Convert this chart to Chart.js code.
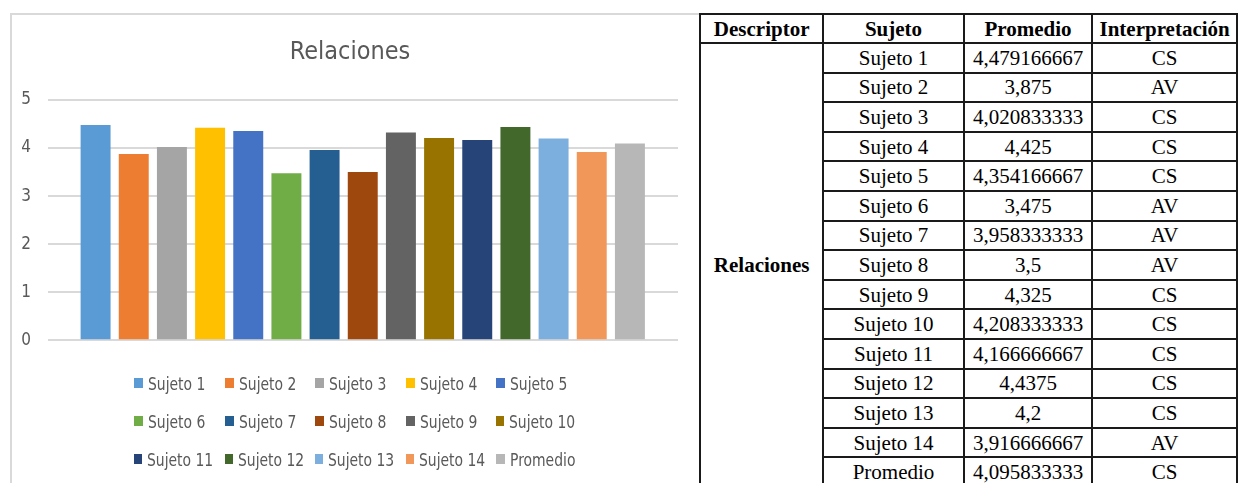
<!DOCTYPE html>
<html>
<head>
<meta charset="utf-8">
<script src="https://cdn.jsdelivr.net/npm/chart.js@4.4.1/dist/chart.umd.min.js"></script>
<style>
  body { margin: 0; width: 1238px; height: 483px; overflow: hidden; position: relative; background: #fff; }
  #chartBox { position: absolute; left: 10px; top: 13px; width: 700px; height: 480px;
    border-top: 2px solid #d9d9d9; border-left: 2px solid #d9d9d9; box-sizing: border-box; }
  #chart { position: absolute; left: 12px; top: 15px; }
  #legend { position: absolute; left: 134px; top: 364px; display: grid;
    grid-template-columns: repeat(5, 90.5px); grid-auto-rows: 38px; }
  .item { display: flex; align-items: center; font-family: "Liberation Sans Narrow", "DejaVu Sans Condensed", sans-serif;
    font-size: 18px; color: #595959; white-space: nowrap; }
  .item span { display: inline-block; width: 9px; height: 10px; margin-right: 5px; }
  .item b { display: inline-block; font-weight: normal; transform: scaleX(0.86); transform-origin: left center; }
  table { position: absolute; left: 699px; top: 13px; border-collapse: collapse; table-layout: fixed;
    font-family: "Liberation Serif", "Times New Roman", serif; font-size: 21px; color: #000; }
  td, th { border: 2px solid #1a1a1a; text-align: center; padding: 0; line-height: 24px; }
  th { font-weight: bold; height: 27px; }
  td { height: 27.6px; }
  td.desc { font-weight: bold; vertical-align: middle; }
</style>
</head>
<body>
<div id="chartBox"></div>
<canvas id="chart" width="687" height="352"></canvas>
<div id="legend"></div>
<table id="tbl">
  <colgroup><col style="width:124px"><col style="width:142px"><col style="width:129px"><col style="width:145px"></colgroup>
  <thead><tr><th>Descriptor</th><th>Sujeto</th><th>Promedio</th><th>Interpretación</th></tr></thead>
  <tbody id="tbody"></tbody>
</table>
<script>
const chartTitle = 'Relaciones';
const subjects = ['Sujeto 1', 'Sujeto 2', 'Sujeto 3', 'Sujeto 4', 'Sujeto 5', 'Sujeto 6', 'Sujeto 7',
    'Sujeto 8', 'Sujeto 9', 'Sujeto 10', 'Sujeto 11', 'Sujeto 12', 'Sujeto 13', 'Sujeto 14', 'Promedio'];
const promedios = [4.479166667, 3.875, 4.020833333, 4.425, 4.354166667, 3.475, 3.958333333,
    3.5, 4.325, 4.208333333, 4.166666667, 4.4375, 4.2, 3.916666667, 4.095833333];
const promedioText = ['4,479166667', '3,875', '4,020833333', '4,425', '4,354166667', '3,475', '3,958333333',
    '3,5', '4,325', '4,208333333', '4,166666667', '4,4375', '4,2', '3,916666667', '4,095833333'];
const interpretacion = ['CS', 'AV', 'CS', 'CS', 'CS', 'AV', 'AV', 'AV', 'CS', 'CS', 'CS', 'CS', 'CS', 'AV', 'CS'];
const colors = ['#5B9BD5', '#ED7D31', '#A5A5A5', '#FFC000', '#4472C4', '#70AD47', '#255E91',
    '#9E480E', '#636363', '#997300', '#264478', '#43682B', '#7CAFDD', '#F1975A', '#B7B7B7'];
const yTicks = [0, 1, 2, 3, 4, 5];

const narrow = '"Liberation Sans Narrow", "DejaVu Sans Condensed", sans-serif';

new Chart(document.getElementById('chart'), {
    type: 'bar',
    data: {
        labels: [chartTitle],
        datasets: subjects.map((s, i) => ({
            label: s,
            data: [promedios[i]],
            backgroundColor: colors[i],
            categoryPercentage: 0.908,
            barPercentage: 0.785
        }))
    },
    options: {
        responsive: false,
        devicePixelRatio: 1,
        animation: false,
        layout: { padding: { left: 10, right: 21, top: 0, bottom: 17 } },
        plugins: {
            legend: { display: false },
            tooltip: { enabled: false },
            title: {
                display: true, text: chartTitle, color: '#595959',
                font: { family: narrow, size: 25, weight: 'normal', lineHeight: 1.2 },
                padding: { top: 22, bottom: 33 }
            }
        },
        scales: {
            x: { display: false },
            y: {
                min: yTicks[0], max: yTicks[yTicks.length - 1],
                afterFit: s => { s.width = 25.5; },
                ticks: { stepSize: 1, padding: 16.5, color: '#595959', font: { family: narrow, size: 17 } },
                grid: { color: '#d9d9d9', lineWidth: 2, drawTicks: false },
                border: { display: false }
            }
        }
    }
});

const legend = document.getElementById('legend');
subjects.forEach((s, i) => {
    const el = document.createElement('div');
    el.className = 'item';
    el.innerHTML = `<span style="background:${colors[i]}"></span><b>${s}</b>`;
    legend.appendChild(el);
});

const tbody = document.getElementById('tbody');
subjects.forEach((s, i) => {
    const tr = document.createElement('tr');
    tr.innerHTML = (i === 0 ? `<td class="desc" rowspan="${subjects.length}">${chartTitle}</td>` : '') +
        `<td>${s}</td><td>${promedioText[i]}</td><td>${interpretacion[i]}</td>`;
    tbody.appendChild(tr);
});
</script>
</body>
</html>
